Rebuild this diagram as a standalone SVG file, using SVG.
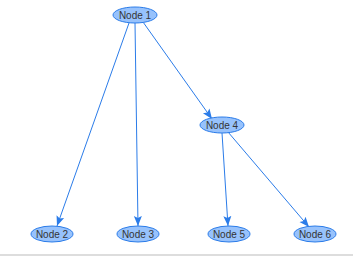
<svg xmlns="http://www.w3.org/2000/svg" width="353" height="256" viewBox="0 0 353 256">
<style>
.node ellipse{fill:#97c2fc;stroke:#2b7ce9;stroke-width:1}
.node text{font-family:"Liberation Sans",Arial,sans-serif;font-size:10px;fill:#343434;text-anchor:middle;dominant-baseline:central}
.edge{stroke:#2b7ce9;stroke-width:1;fill:none;marker-end:url(#arr)}
</style>
<defs>
<marker id="arr" viewBox="0 0 10 10" refX="10" refY="5" markerWidth="10" markerHeight="10" markerUnits="userSpaceOnUse" orient="auto">
<path d="M0,1 L10,5 L0,9 L2,5 Z" fill="#2b7ce9"/>
</marker>
</defs>
<rect width="353" height="256" fill="#ffffff"/>
<rect x="0" y="254" width="353" height="2" fill="#dddddd"/>
<g id="connectors">
<line class="edge" x1="129" y1="23" x2="57" y2="226"/>
<line class="edge" x1="135" y1="23" x2="138" y2="226"/>
<line class="edge" x1="143" y1="22" x2="212" y2="119"/>
<line class="edge" x1="222" y1="133" x2="228" y2="226"/>
<line class="edge" x1="228" y1="132" x2="309" y2="227"/>
</g>
<g id="node1" class="node"><ellipse cx="135" cy="15" rx="22" ry="8"/><text x="135" y="15">Node 1</text></g>
<g id="node4" class="node"><ellipse cx="222" cy="125" rx="22" ry="8"/><text x="222" y="125">Node 4</text></g>
<g id="node2" class="node"><ellipse cx="52" cy="234" rx="21" ry="8"/><text x="52" y="234">Node 2</text></g>
<g id="node3" class="node"><ellipse cx="138" cy="234" rx="21" ry="8"/><text x="138" y="234">Node 3</text></g>
<g id="node5" class="node"><ellipse cx="229" cy="234" rx="21" ry="8"/><text x="229" y="234">Node 5</text></g>
<g id="node6" class="node"><ellipse cx="315" cy="234" rx="21" ry="8"/><text x="315" y="234">Node 6</text></g>
</svg>
